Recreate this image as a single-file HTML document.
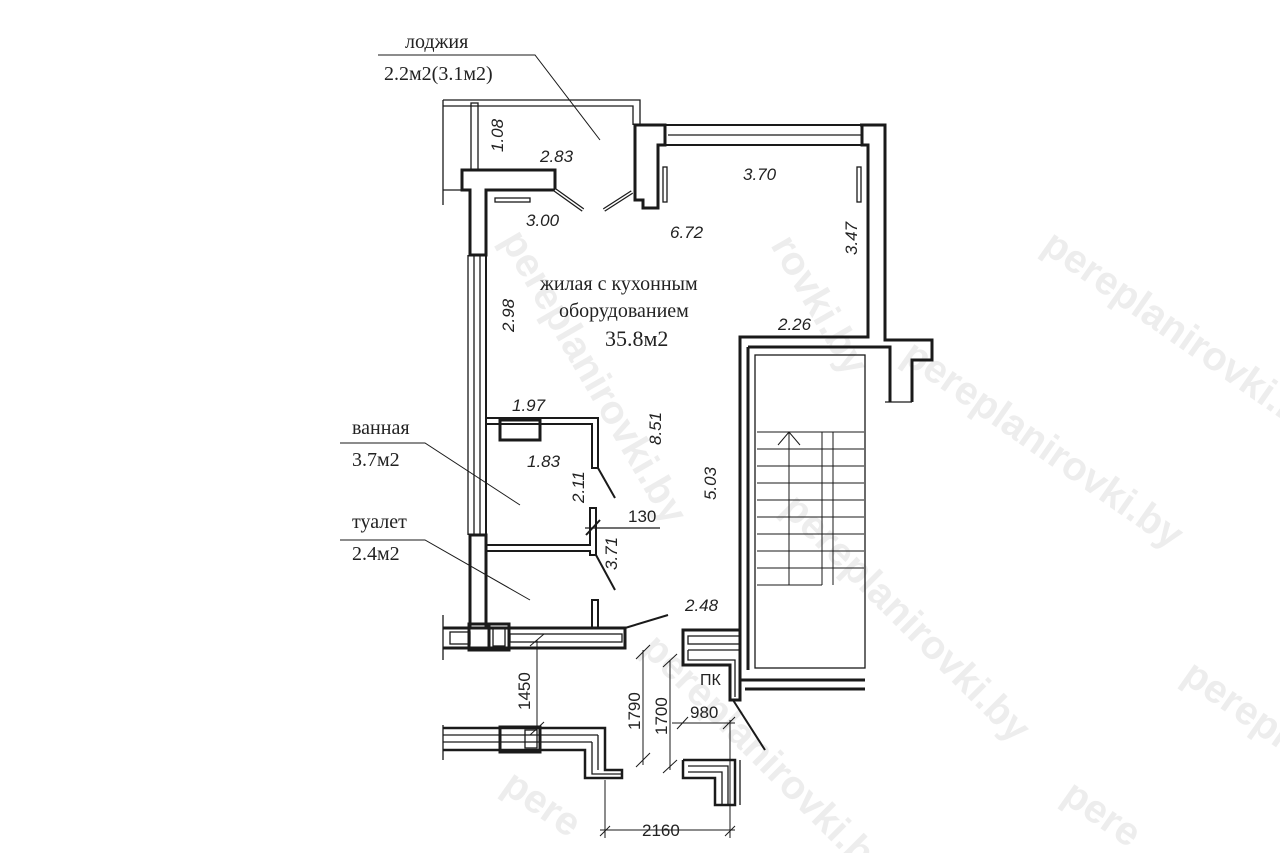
<!DOCTYPE html>
<html><head><meta charset="utf-8"><style>
html,body{margin:0;padding:0;background:#fff;width:1280px;height:853px;overflow:hidden}
svg text{font-family:"Liberation Sans",sans-serif;fill:#222}
svg .wm text{fill:#ededed;font-weight:bold;font-size:40px}
.s{font-family:"Liberation Serif","DejaVu Serif",serif;fill:#222}
.i{font-style:italic;font-size:17px}
</style></head><body>
<svg width="1280" height="853" viewBox="0 0 1280 853" xmlns="http://www.w3.org/2000/svg">
<g class="wm">
<text x="1040" y="250" transform="rotate(35 1040 250)">pereplanirovki.by</text>
<text x="900" y="360" transform="rotate(35 900 360)">pereplanirovki.by</text>
<text x="770" y="245" transform="rotate(60 770 245)">rovki.by</text>
<text x="500" y="240" transform="rotate(60 500 240)">pereplanirovki.by</text>
<text x="780" y="510" transform="rotate(45 780 510)">pereplanirovki.by</text>
<text x="640" y="650" transform="rotate(45 640 650)">pereplanirovki.by</text>
<text x="1180" y="680" transform="rotate(35 1180 680)">pereplan</text>
<text x="500" y="790" transform="rotate(35 500 790)">pere</text>
<text x="1060" y="800" transform="rotate(35 1060 800)">pere</text>
</g>
<g stroke="#1a1a1a" fill="none" stroke-width="1.3">
<polyline points="443,100 640,100 640,125"/>
<polyline points="443,106 633,106 633,125"/>
<line x1="443" y1="100" x2="443" y2="205"/>
<rect x="471" y="103" width="7" height="67"/>
<line x1="443" y1="190" x2="462" y2="190"/>
<polygon points="462,170 555,170 555,190 486,190 486,255 470,255 470,190 462,190" stroke-width="3"/>
<rect x="495" y="198" width="35" height="4"/>
<line x1="555" y1="190" x2="583" y2="210" stroke-width="4"/><line x1="555" y1="190" x2="583" y2="210" stroke="#fff" stroke-width="1.5"/>
<line x1="632" y1="192" x2="604" y2="210" stroke-width="4"/><line x1="632" y1="192" x2="604" y2="210" stroke="#fff" stroke-width="1.5"/>
<polygon points="635,125 665,125 665,145 658,145 658,208 643,208 643,200 635,200" stroke-width="3"/>
<line x1="665" y1="125" x2="862" y2="125" stroke-width="2"/>
<line x1="668" y1="135" x2="862" y2="135"/>
<line x1="665" y1="145" x2="862" y2="145" stroke-width="2"/>
<rect x="663" y="167" width="4" height="35"/>
<rect x="857" y="167" width="4" height="35"/>
<polyline points="860,125 885,125 885,340 932,340 932,360 912,360 912,402" stroke-width="3"/>
<polyline points="862,125 862,145 868,145 868,337 740,337 740,680 865,680" stroke-width="3"/>
<polyline points="885,402 912,402"/>
<polyline points="748,347 890,347 890,402" stroke-width="3"/>
<line x1="748" y1="347" x2="748" y2="670" stroke-width="3"/>
<rect x="755" y="355" width="110" height="313"/>
<line x1="745" y1="689" x2="865" y2="689" stroke-width="3"/>
<g stroke-width="1">
<line x1="757" y1="432" x2="864" y2="432"/><line x1="757" y1="449" x2="864" y2="449"/>
<line x1="757" y1="466" x2="864" y2="466"/><line x1="757" y1="483" x2="864" y2="483"/>
<line x1="757" y1="500" x2="864" y2="500"/><line x1="757" y1="517" x2="864" y2="517"/>
<line x1="757" y1="534" x2="864" y2="534"/><line x1="757" y1="551" x2="864" y2="551"/>
<line x1="757" y1="568" x2="864" y2="568"/>
<line x1="789" y1="432" x2="789" y2="585"/><line x1="822" y1="432" x2="822" y2="585"/>
<line x1="833" y1="432" x2="833" y2="585"/><line x1="757" y1="585" x2="822" y2="585"/>
<polyline points="778,445 789,432 800,445"/>
</g>
<line x1="468" y1="255" x2="468" y2="535"/><line x1="474" y1="255" x2="474" y2="535"/>
<line x1="480" y1="255" x2="480" y2="535"/><line x1="486" y1="255" x2="486" y2="535" stroke-width="2"/>
<rect x="470" y="535" width="16" height="93" stroke-width="3"/>
<polyline points="486,418 598,418 598,468 592,468 592,424 486,424" stroke-width="2"/>
<rect x="500" y="420" width="40" height="20" stroke-width="3"/>
<line x1="598" y1="468" x2="615" y2="498" stroke-width="2"/>
<polyline points="486,545 590,545 590,508 596,508 596,555 590,555 590,551 486,551" stroke-width="2"/>
<line x1="585" y1="528" x2="660" y2="528"/>
<line x1="586" y1="535" x2="600" y2="520" stroke-width="2"/>
<line x1="596" y1="555" x2="615" y2="590" stroke-width="2"/>
<rect x="592" y="600" width="6" height="28" stroke-width="2"/>
<line x1="625" y1="628" x2="668" y2="615" stroke-width="2"/>
<polyline points="443,628 625,628 625,648 443,648" stroke-width="3"/>
<rect x="450" y="632" width="20" height="12"/>
<rect x="510" y="634" width="112" height="8"/>
<line x1="443" y1="615" x2="443" y2="660"/>
<rect x="469" y="624" width="20" height="26" stroke-width="3"/>
<rect x="489" y="624" width="20" height="26" stroke-width="3"/>
<rect x="493" y="628" width="12" height="18"/>
<polyline points="740,630 683,630 683,665 730,665 730,700 740,700 740,680" stroke-width="3"/>
<rect x="688" y="636" width="52" height="8"/><polyline points="688,650 740,650"/><polyline points="688,650 688,660 735,660 735,697"/>
<line x1="733" y1="700" x2="765" y2="750" stroke-width="2"/>
<line x1="443" y1="725" x2="443" y2="760"/>
<polyline points="443,728 605,728 605,770 622,770 622,778 585,778 585,750 443,750" stroke-width="2.5"/>
<line x1="443" y1="735" x2="598" y2="735"/><line x1="443" y1="742" x2="592" y2="742"/>
<polyline points="598,735 598,770"/><polyline points="592,742 592,774 622,774"/>
<rect x="500" y="727" width="40" height="25" stroke-width="3"/><rect x="525" y="730" width="12" height="18"/>
<polyline points="683,760 735,760 735,805 715,805 715,778 683,778 683,760" stroke-width="2.5"/>
<polyline points="688,766 728,766 728,805"/><polyline points="688,772 722,772 722,805"/>
<line x1="740" y1="760" x2="740" y2="805"/>
<g stroke-width="1">
<line x1="537" y1="640" x2="537" y2="730"/>
<line x1="530" y1="646" x2="544" y2="634"/><line x1="530" y1="735" x2="544" y2="722"/>
<line x1="643" y1="650" x2="643" y2="765"/><line x1="636" y1="659" x2="650" y2="645"/><line x1="636" y1="767" x2="650" y2="753"/>
<line x1="670" y1="660" x2="670" y2="770"/><line x1="663" y1="667" x2="677" y2="654"/><line x1="663" y1="773" x2="677" y2="760"/>
<line x1="672" y1="723" x2="735" y2="723"/><line x1="677" y1="729" x2="688" y2="717"/><line x1="723" y1="729" x2="735" y2="717"/>
<line x1="605" y1="780" x2="605" y2="838"/><line x1="730" y1="720" x2="730" y2="838"/><line x1="600" y1="830" x2="735" y2="830"/>
<line x1="600" y1="836" x2="610" y2="826"/><line x1="725" y1="836" x2="735" y2="826"/>
<polyline points="378,55 535,55 600,140"/>
<polyline points="340,443 425,443 520,505"/>
<polyline points="340,540 425,540 530,600"/>
</g>
</g>
<text class="s" x="405" y="48" font-size="20">лоджия</text>
<text class="s" x="384" y="80" font-size="20">2.2м2(3.1м2)</text>
<text class="s" x="352" y="434" font-size="20">ванная</text>
<text class="s" x="352" y="466" font-size="20">3.7м2</text>
<text class="s" x="352" y="528" font-size="20">туалет</text>
<text class="s" x="352" y="560" font-size="20">2.4м2</text>
<text class="s" x="540" y="290" font-size="20">жилая с кухонным</text>
<text class="s" x="559" y="317" font-size="20">оборудованием</text>
<text class="s" x="605" y="346" font-size="22">35.8м2</text>
<g>
<text x="540" y="162" class="i">2.83</text>
<text x="526" y="226" class="i">3.00</text>
<text x="743" y="180" class="i">3.70</text>
<text x="670" y="238" class="i">6.72</text>
<text x="778" y="330" class="i">2.26</text>
<text x="512" y="411" class="i">1.97</text>
<text x="527" y="467" class="i">1.83</text>
<text x="685" y="611" class="i">2.48</text>
<text class="i" transform="translate(503,152) rotate(-90)">1.08</text>
<text class="i" transform="translate(857,255) rotate(-90)">3.47</text>
<text class="i" transform="translate(514,332) rotate(-90)">2.98</text>
<text class="i" transform="translate(661,445) rotate(-90)">8.51</text>
<text class="i" transform="translate(716,500) rotate(-90)">5.03</text>
<text class="i" transform="translate(584,503) rotate(-90)">2.11</text>
<text class="i" transform="translate(617,570) rotate(-90)">3.71</text>
</g>
<text x="628" y="522" font-size="17">130</text>
<text x="700" y="685" font-size="16">ПК</text>
<text x="690" y="718" font-size="17">980</text>
<text x="642" y="836" font-size="17">2160</text>
<text font-size="17" transform="translate(530,710) rotate(-90)">1450</text>
<text font-size="17" transform="translate(640,730) rotate(-90)">1790</text>
<text font-size="17" transform="translate(667,735) rotate(-90)">1700</text>
</svg>
</body></html>
